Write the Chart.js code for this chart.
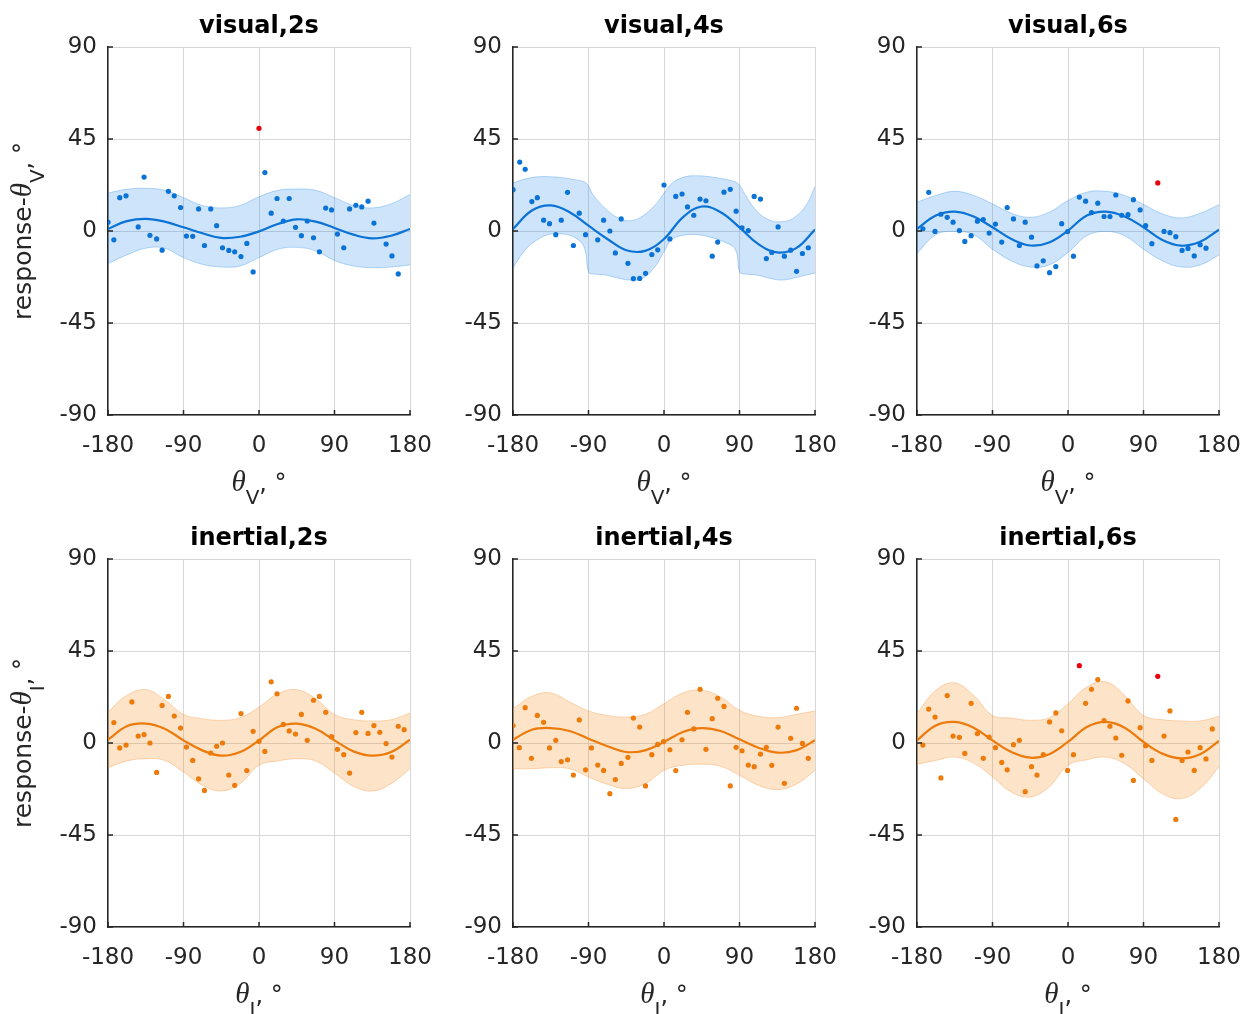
<!DOCTYPE html>
<html>
<head>
<meta charset="utf-8">
<script src="https://cdn.jsdelivr.net/npm/chart.js"></script>
<style>
  body { margin: 0; background: #fff; overflow: hidden; }
  #wrap { position: relative; width: 1257px; height: 1014px; }
  canvas { position: absolute; }
</style>
</head>
<body>
<div id="wrap"></div>
<script>
var bandX = [-180, -157.5, -135, -112.5, -90, -67.5, -45, -22.5, 0, 22.5, 45, 67.5, 90, 112.5, 135, 157.5, 180];

// visual, 2s
var v2Mean = [1.0, 4.8, 5.9, 4.6, 1.8, -1.1, -3.4, -2.8, -0.2, 3.4, 5.7, 4.6, 1.5, -1.8, -3.6, -2.3, 1.0];
var v2Upper = [18.6, 20.4, 20.9, 19.9, 16.3, 12.5, 11.3, 12.5, 16.7, 19.9, 20.5, 19.9, 16.3, 12.5, 11.3, 13.3, 17.9];
var v2Lower = [-15.9, -11.7, -8.4, -8.4, -13.0, -16.3, -17.6, -17.1, -13.0, -8.9, -8.0, -9.7, -14.4, -17.1, -17.9, -17.6, -16.6];
var v2PtsX = [-180, -173, -166, -158.5, -144, -137, -130, -122, -115.5, -108, -101, -93.5, -86.5, -79, -72, -65, -57.5, -50.5, -43.5, -36, -29, -21.5, -14.5, -7, 7, 14.5, 21.5, 29, 36, 43.5, 50.5, 57.5, 65, 72, 79.5, 86.5, 93.5, 101, 108, 115.5, 122.5, 130, 137, 151.5, 158.5, 166];
var v2PtsY = [4.3, -4.3, 16.3, 17.2, 2.0, 26.4, -2.1, -3.9, -9.4, 19.4, 17.2, 11.5, -2.5, -2.6, 10.8, -7.1, 10.8, 2.6, -8.2, -9.5, -10.2, -12.5, -6.1, -20.0, 28.6, 8.7, 15.9, 4.9, 15.9, 1.8, -2.3, 4.9, -3.3, -10.2, 11.2, 10.3, -1.5, -8.2, 10.8, 12.6, 11.8, 14.6, 3.9, -6.4, -12.2, -21.0];
var v2OutX = [0];
var v2OutY = [50.2];

// visual, 4s (band has sharp bends, so it was read at more places)
var v4BandX = [-180, -165, -150, -135, -120, -105, -95, -90, -85, -70, -55, -40, -25, -10, 0, 10, 25, 40, 55, 70, 85, 90, 95, 110, 125, 140, 155, 170, 180];
var v4Upper = [23.5, 25.5, 26.5, 26.5, 26, 25, 24, 22, 18, 11, 6.5, 5, 7.5, 13, 18.5, 23.5, 26.5, 27, 26.5, 25.5, 24, 22.5, 19, 10, 5.5, 4.5, 6.5, 13, 21.8];
var v4Lower = [-18, -9, -4, -1.5, -1.5, -3.5, -8, -20, -21, -21.5, -23, -24, -23, -17, -10, -4, -2, -1.8, -3, -5, -9, -20, -21, -21.5, -23, -24, -23, -21.5, -20.5];
var v4Mean = [1.0, 10.0, 12.5, 9.2, 2.6, -3.9, -9.4, -9.7, -3.9, 6.7, 12.0, 9.2, 1.8, -6.4, -10.5, -8.4, 0.7];
var v4PtsX = [-180, -172, -165.5, -157.5, -151, -143.5, -136.5, -129, -122.5, -115, -108, -101, -93.5, -79, -72, -64.5, -58, -51, -43, -36.5, -29, -22, -14.5, -7.5, 0, 7, 14, 21.5, 28, 35.5, 43, 50, 57.5, 64, 71.5, 79, 86, 93, 100.5, 107.5, 115, 122, 128.5, 136, 143.5, 151, 158, 165, 172];
var v4PtsY = [20.2, 33.7, 30.2, 14.4, 16.3, 5.3, 3.6, -1.8, 5.3, 18.9, -7.1, 8.7, -1.8, -4.3, 5.3, 0, -10.7, 5.9, -15.8, -23.3, -23.2, -20.7, -11.5, -9.2, 22.5, -3.9, 16.9, 18.1, 11.8, 7.7, 15.6, 14.8, -12.3, -5.4, 19.0, 20.4, 9.7, 1.6, 0.2, 16.9, 15.6, -13.5, -10.5, 2.0, -12.3, -9.4, -19.7, -11.0, -8.2];

// visual, 6s
var v6Mean = [1.0, 7.6, 9.5, 7.1, 1.8, -3.9, -7.1, -5.6, 0.2, 7.6, 9.5, 7.1, 1.8, -4.4, -7.2, -5.3, 0.7];
var v6Upper = [14.1, 17.4, 19.4, 17.4, 13.3, 8.7, 6.7, 9.2, 14.9, 19.0, 19.4, 17.4, 13.0, 8.4, 6.4, 8.7, 12.8];
var v6Lower = [-11.0, -1.8, -0.2, -1.8, -8.9, -14.6, -17.6, -16.6, -10.5, -2.3, -0.2, -2.3, -8.9, -14.6, -17.6, -16.6, -11.7];
var v6PtsX = [-173, -166, -158.5, -151.5, -144, -137, -129.5, -123, -115.5, -108, -101, -94, -86.5, -79, -72.5, -65, -58, -51, -43.5, -37, -29.5, -22, -14.5, -7.5, -0.5, 6.5, 13.5, 21, 28, 35.5, 43, 50, 57, 64, 71.5, 78, 86, 92.5, 100, 114.5, 121.5, 128.5, 136, 143, 150.5, 157.5, 164.5];
var v6PtsY = [1.1, 18.9, -0.2, 8.2, 6.7, 4.3, 0.2, -5.1, -2.3, 4.8, 5.6, -1.0, 3.4, -5.4, 11.5, 5.9, -7.1, 4.3, -3.0, -17.1, -14.6, -20.4, -17.4, 3.6, -0.3, -12.3, 16.6, 14.6, 9.0, 13.6, 7.1, 7.1, 17.6, 7.7, 8.0, 15.3, 10.3, 2.6, -6.2, -0.2, -0.8, -2.8, -9.5, -8.5, -12.2, -6.7, -8.4];
var v6OutX = [107];
var v6OutY = [23.5];

// inertial, 2s
var i2Mean = [1.6, 8.2, 9.5, 7.0, 1.3, -3.6, -6.2, -4.4, 1.3, 7.8, 9.5, 7.0, 1.3, -4.1, -6.2, -4.4, 1.6];
var i2Upper = [15.2, 23.3, 26.1, 21.2, 14.0, 11.9, 11.1, 12.4, 17.6, 24.1, 26.1, 21.7, 14.0, 11.4, 10.8, 11.4, 14.7];
var i2Lower = [-12.1, -8.8, -7.7, -8.5, -14.2, -20.7, -23.5, -19.9, -10.9, -8.8, -7.7, -8.8, -14.7, -21.2, -23.5, -19.9, -12.6];
var i2PtsX = [-173, -166, -158.5, -151.5, -144, -137, -130, -122, -115.5, -108, -101, -93.5, -86.5, -79, -72, -65, -57.5, -50.5, -43.5, -36, -29, -21.5, -14.5, -7, 0, 7, 14.5, 21.5, 29, 36, 43.5, 50.5, 57.5, 65, 72, 79.5, 86.5, 93.5, 101, 108, 115.5, 122.5, 130, 137, 144, 151.5, 158.5, 166, 173];
var i2PtsY = [10.0, -2.4, -1.0, 20.1, 3.4, 4.1, 0, -14.4, 18.4, 22.8, 13.2, 7.3, -2.0, -8.5, -17.5, -23.2, -4.9, -1.6, 0, -15.7, -20.7, 14.4, -13.5, 5.7, 0.8, -4.1, 29.9, 24.1, 9.1, 5.9, 4.4, 14.0, 1.3, 20.9, 22.8, 15.0, 3.1, -3.1, -5.7, -14.7, 5.1, 15.0, 4.7, 8.5, 5.2, -0.3, -6.9, 8.2, 6.5];

// inertial, 4s
var i4Mean = [1.6, 6.5, 7.3, 5.9, 2.1, -1.6, -4.4, -3.6, 0.5, 5.4, 7.3, 5.9, 1.8, -2.3, -4.7, -3.6, 1.3];
var i4Upper = [16.8, 22.8, 24.5, 20.1, 15.7, 13.5, 12.7, 14.0, 19.2, 24.5, 25.8, 22.5, 16.0, 13.1, 12.4, 14.0, 15.7];
var i4Lower = [-12.6, -12.6, -12.1, -12.6, -16.6, -20.2, -22.3, -19.9, -13.4, -10.9, -10.4, -11.4, -15.8, -20.7, -22.8, -20.2, -13.4];
var i4PtsX = [-180, -172.5, -165.5, -158, -151, -143.5, -136.5, -129, -122.5, -115, -108, -101, -93.5, -86.5, -79, -72, -64.5, -58, -51, -43, -36.5, -29, -22, -14.5, -7.5, -0.5, 7, 14, 21.5, 28, 35.5, 43, 50, 57.5, 64, 71.5, 79, 86, 93, 100.5, 107.5, 115, 122, 128.5, 136, 143.5, 151, 158, 165, 172];
var i4PtsY = [8.5, -2.3, 17.3, -7.5, 13.5, 10.1, -2.4, 1.3, -9.1, -8.2, -15.7, 11.3, -13.1, -2.4, -10.8, -13.4, -24.8, -17.9, -10.0, -7.0, 12.2, 7.8, -21.0, -5.7, -0.7, 0.7, -3.3, -13.5, 1.6, 15.0, 6.9, 26.3, -3.1, 11.9, 21.9, 17.9, -21.0, -2.1, -3.8, -10.8, -11.6, -5.4, -2.1, -10.9, 7.8, -19.7, 2.3, 17.0, -0.2, -7.5];

// inertial, 6s
var i6Mean = [1.3, 8.6, 10.3, 7.5, 1.3, -4.4, -7.2, -5.5, 0.5, 7.8, 10.3, 7.5, 0.5, -5.2, -7.5, -5.5, 1.0];
var i6Upper = [14.4, 25.8, 29.4, 23.3, 13.4, 12.2, 11.1, 12.4, 19.2, 27.4, 29.9, 23.3, 13.4, 11.4, 10.8, 10.8, 13.1];
var i6Lower = [-10.4, -8.5, -6.9, -9.8, -16.6, -24.0, -26.4, -21.5, -10.9, -8.2, -6.9, -10.1, -17.5, -24.8, -27.2, -22.3, -11.7];
var i6PtsX = [-173, -166, -158.5, -151.5, -144, -137, -129.5, -123, -115.5, -108, -101, -94, -86.5, -79, -72.5, -65, -58, -51, -43.5, -37, -29.5, -22, -14.5, -7.5, -0.5, 6.5, 21, 28, 35.5, 43, 50, 57, 64, 71.5, 78, 86, 92.5, 100, 114.5, 121.5, 128.5, 136, 143, 150.5, 157.5, 164.5, 172];
var i6PtsY = [-1.0, 16.6, 12.7, -17.1, 23.2, 3.4, 2.8, -5.1, 19.4, 4.6, -7.5, 2.9, -2.3, -9.5, -13.1, -0.8, 1.3, -23.8, -11.6, -15.7, -5.7, 10.3, 14.7, 6.0, -13.4, -5.7, 19.4, 26.3, 31.0, 10.9, 8.2, 2.4, -6.0, 20.6, -18.3, 7.5, -1.3, -8.5, 3.4, 15.7, -37.4, -8.5, -4.4, -13.4, -2.3, -7.8, 6.9];
var i6OutX = [13.5, 107];
var i6OutY = [37.8, 32.6];

var xTicks = [-180, -90, 0, 90, 180];
var yTicks = [-90, -45, 0, 45, 90];

var blue = { line: "#0b73d6", fill: "rgba(30,132,232,0.22)", edge: "rgba(30,132,232,0.30)" };
var orange = { line: "#ec7b0c", fill: "rgba(246,152,52,0.27)", edge: "rgba(240,150,60,0.35)" };

var panels = [
  { title: "visual,2s", sub: "V", col: 0, row: 0, c: blue, bx: bandX, up: v2Upper, lo: v2Lower, mean: v2Mean, px: v2PtsX, py: v2PtsY, ox: v2OutX, oy: v2OutY },
  { title: "visual,4s", sub: "V", col: 1, row: 0, c: blue, bx: v4BandX, up: v4Upper, lo: v4Lower, mean: v4Mean, px: v4PtsX, py: v4PtsY, ox: [], oy: [] },
  { title: "visual,6s", sub: "V", col: 2, row: 0, c: blue, bx: bandX, up: v6Upper, lo: v6Lower, mean: v6Mean, px: v6PtsX, py: v6PtsY, ox: v6OutX, oy: v6OutY },
  { title: "inertial,2s", sub: "I", col: 0, row: 1, c: orange, bx: bandX, up: i2Upper, lo: i2Lower, mean: i2Mean, px: i2PtsX, py: i2PtsY, ox: [], oy: [] },
  { title: "inertial,4s", sub: "I", col: 1, row: 1, c: orange, bx: bandX, up: i4Upper, lo: i4Lower, mean: i4Mean, px: i4PtsX, py: i4PtsY, ox: [], oy: [] },
  { title: "inertial,6s", sub: "I", col: 2, row: 1, c: orange, bx: bandX, up: i6Upper, lo: i6Lower, mean: i6Mean, px: i6PtsX, py: i6PtsY, ox: i6OutX, oy: i6OutY }
];

var colLeft = [0, 405, 809];
var rowTop = [0, 512];
var rowH = [507, 502];
var SANS = '"DejaVu Sans", "Liberation Sans", sans-serif';
var SERIF = '"Liberation Serif", "Times New Roman", serif';

function zip(xs, ys) {
  return xs.map(function (x, i) { return { x: x, y: ys[i] }; });
}

// draws a run of text pieces (main text, subscript...) centred on cx
function drawParts(ctx, parts, cx, by) {
  var total = 0;
  parts.forEach(function (p) { ctx.font = p.f; p.w = ctx.measureText(p.t).width; total += p.w; });
  var x = cx - total / 2;
  ctx.textAlign = "left";
  ctx.textBaseline = "alphabetic";
  parts.forEach(function (p) {
    ctx.font = p.f;
    ctx.fillText(p.t, x, by + (p.dy || 0));
    x += p.w;
  });
}

function labelParts(sub, prefix) {
  var parts = [];
  if (prefix) parts.push({ t: prefix, f: "25px " + SANS });
  parts.push({ t: "\u03B8", f: "italic 29px " + SERIF });
  parts.push({ t: sub, f: "20px " + SANS, dy: 13 });
  parts.push({ t: ", \u00B0", f: "24px " + SANS });
  return parts;
}

var decor = {
  id: "decor",
  afterDraw: function (chart, args, opts) {
    var ctx = chart.ctx, a = chart.chartArea;
    var xs = chart.scales.x, ys = chart.scales.y;
    ctx.save();
    // small inward tick marks
    ctx.strokeStyle = "#262626";
    ctx.lineWidth = 1.5;
    ctx.beginPath();
    xTicks.forEach(function (v) {
      var px = xs.getPixelForValue(v);
      ctx.moveTo(px, a.bottom); ctx.lineTo(px, a.bottom - 5);
    });
    yTicks.forEach(function (v) {
      var py = ys.getPixelForValue(v);
      ctx.moveTo(a.left, py); ctx.lineTo(a.left + 5, py);
    });
    ctx.stroke();

    ctx.fillStyle = "#000";
    ctx.font = "bold 24px " + SANS;
    ctx.textAlign = "center";
    ctx.textBaseline = "alphabetic";
    ctx.fillText(opts.title, (a.left + a.right) / 2, a.top - 14);

    ctx.fillStyle = "#262626";
    drawParts(ctx, labelParts(opts.sub), (a.left + a.right) / 2, a.bottom + 76);

    if (opts.ylabel) {
      ctx.translate(a.left - 77, (a.top + a.bottom) / 2);
      ctx.rotate(-Math.PI / 2);
      drawParts(ctx, labelParts(opts.sub, "response-"), 0, 0);
    }
    ctx.restore();
  }
};

var wrap = document.getElementById("wrap");

panels.forEach(function (p) {
  var cv = document.createElement("canvas");
  var h = rowH[p.row];
  cv.width = 440;
  cv.height = h;
  cv.style.left = colLeft[p.col] + "px";
  cv.style.top = rowTop[p.row] + "px";
  cv.style.width = "440px";
  cv.style.height = h + "px";
  wrap.appendChild(cv);

  var tickFont = { family: SANS, size: 23 };
  new Chart(cv.getContext("2d"), {
    type: "line",
    data: {
      datasets: [
        { data: zip(p.bx, p.up), fill: "+1", backgroundColor: p.c.fill, borderColor: p.c.edge, borderWidth: 1, pointRadius: 0, tension: 0.4, order: 3 },
        { data: zip(p.bx, p.lo), fill: false, borderColor: p.c.edge, borderWidth: 1, pointRadius: 0, tension: 0.4, order: 3 },
        { data: zip(bandX, p.mean), fill: false, borderColor: p.c.line, borderWidth: 2.2, pointRadius: 0, tension: 0.4, order: 2 },
        { data: zip(p.px, p.py), showLine: false, pointRadius: 2.6, pointBorderWidth: 0, pointBackgroundColor: p.c.line, order: 1 },
        { data: zip(p.ox, p.oy), showLine: false, pointRadius: 2.6, pointBorderWidth: 0, pointBackgroundColor: "#e8000b", order: 0 }
      ]
    },
    options: {
      responsive: false,
      animation: false,
      devicePixelRatio: 1,
      events: [],
      layout: { padding: { top: 47, right: 30, left: 0, bottom: 0 } },
      plugins: {
        legend: { display: false },
        tooltip: { enabled: false },
        decor: { title: p.title, sub: p.sub, ylabel: p.col === 0 }
      },
      scales: {
        x: {
          type: "linear", min: -180, max: 180,
          ticks: { stepSize: 90, autoSkip: false, maxRotation: 0, padding: 17, color: "#262626", font: tickFont },
          grid: { color: "#d6d6d6", lineWidth: 1, drawTicks: false },
          border: { color: "#262626", width: 1.5 },
          afterFit: function (s) { s.height = h - 415; s.paddingLeft = 0; s.paddingRight = 0; }
        },
        y: {
          type: "linear", min: -90, max: 90,
          ticks: { stepSize: 45, padding: 11, color: "#262626", font: tickFont },
          grid: { color: "#d6d6d6", lineWidth: 1, drawTicks: false },
          border: { color: "#262626", width: 1.5 },
          afterFit: function (s) { s.width = 108; s.paddingTop = 0; s.paddingBottom = 0; }
        }
      }
    },
    plugins: [decor]
  });
});
</script>
</body>
</html>
